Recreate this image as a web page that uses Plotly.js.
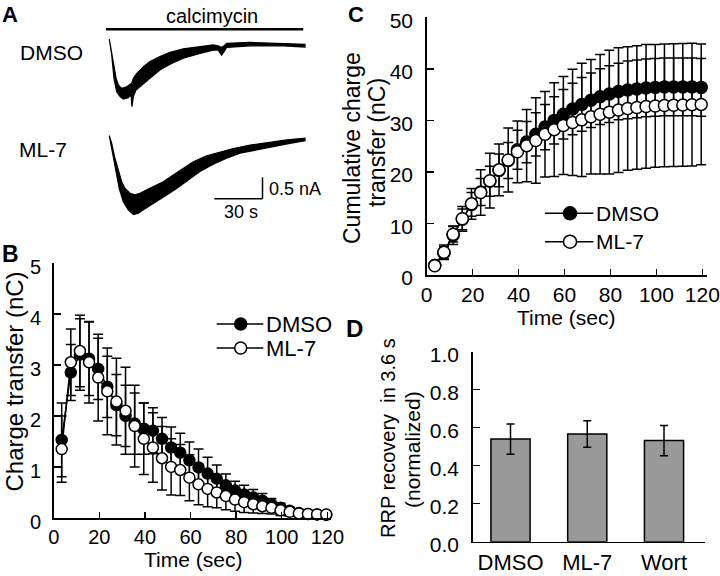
<!DOCTYPE html>
<html>
<head>
<meta charset="utf-8">
<script src="https://cdn.plot.ly/plotly-3.0.1.min.js"></script>
<style>html,body{margin:0;padding:0;background:#fff;}#chart{width:720px;height:576px;}</style>
</head>
<body>
<div id="chart"></div>
<script>
// ---------- Panel A: current traces (envelope of noisy recording), time in s, current in nA ----------
var dmsoUpperT = [0, 1.06, 2.5, 4.2, 5.6, 7.7, 10.8, 13.9, 15.0, 17.0, 21.2, 25.3, 31.5, 37.8, 46.1, 56.4, 64.7, 67.8, 69.9, 71.4, 73.0, 87.6, 108.3, 121.8];
var dmsoUpperI = [0, -0.26, -0.61, -0.92, -1.08, -1.16, -1.12, -1.04, -0.92, -0.81, -0.65, -0.53, -0.41, -0.31, -0.23, -0.18, -0.14, -0.16, -0.20, -0.16, -0.10, -0.08, -0.10, -0.125];
var dmsoLowerT = [0, 1.5, 2.9, 4.6, 6.7, 8.7, 11.8, 13.5, 14.1, 15.0, 16.6, 20.1, 25.3, 31.5, 37.8, 46.1, 56.4, 64.7, 67.8, 69.9, 71.4, 73.0, 87.6, 108.3, 121.8];
var dmsoLowerI = [0, -0.38, -0.92, -1.24, -1.35, -1.41, -1.38, -1.31, -1.59, -1.35, -1.20, -1.08, -0.92, -0.73, -0.59, -0.45, -0.34, -0.26, -0.26, -0.38, -0.30, -0.20, -0.16, -0.16, -0.19];
var ml7UpperT = [0, 1.5, 3.5, 5.6, 7.7, 9.8, 12.9, 16.0, 19.1, 23.3, 27.4, 33.6, 39.8, 46.1, 52.3, 60.6, 68.9, 77.2, 87.6, 97.9, 110.4, 121.8];
var ml7UpperI = [0, -0.18, -0.53, -0.84, -1.08, -1.24, -1.35, -1.39, -1.35, -1.27, -1.20, -1.08, -0.92, -0.77, -0.61, -0.47, -0.38, -0.30, -0.22, -0.16, -0.10, -0.06];
var ml7LowerT = [0, 2.1, 4.2, 6.2, 8.7, 11.8, 15.0, 18.1, 21.2, 25.3, 30.5, 35.7, 41.9, 48.1, 56.4, 64.7, 73.0, 81.3, 91.7, 102.1, 112.4, 121.8];
var ml7LowerI = [0, -0.38, -0.84, -1.24, -1.55, -1.74, -1.85, -1.82, -1.74, -1.63, -1.51, -1.39, -1.24, -1.08, -0.84, -0.67, -0.53, -0.41, -0.34, -0.26, -0.18, -0.12];
var drugBarT = [-2.05, 120.7];      // calcimycin application (s)
var scaleTimeS = 30;                // scale bar, s
var scaleCurrentNA = 0.5;           // scale bar, nA

// ---------- Panels B and C: time points (s) ----------
var timeSec = [3.5, 7.5, 11.5, 15.5, 19.5, 23.5, 27.5, 31.5, 35.5, 39.5, 43.5, 47.5, 51.5, 55.5, 59.5, 63.5, 67.5, 71.5, 75.5, 79.5, 83.5, 87.5, 91.5, 95.5, 99.5, 103.5, 107.5, 111.5, 115.5, 119.5];

// Panel B: charge transfer (nC)
var chargeDMSO = [1.53, 2.85, 3.20, 3.12, 2.92, 2.57, 2.21, 2.00, 1.85, 1.75, 1.71, 1.55, 1.38, 1.28, 1.13, 0.99, 0.87, 0.77, 0.64, 0.54, 0.46, 0.40, 0.34, 0.27, 0.20, 0.14, 0.10, 0.08, 0.07, 0.06];
var chargeDMSOerr = [0.72, 0.55, 0.70, 0.72, 0.60, 0.60, 0.60, 0.60, 0.60, 0.50, 0.45, 0.42, 0.40, 0.38, 0.36, 0.36, 0.32, 0.27, 0.22, 0.18, 0.18, 0.16, 0.14, 0.11, 0.09, 0.07, 0.05, 0.04, 0.03, 0.03];
var chargeML7 = [1.35, 3.05, 3.27, 3.05, 2.75, 2.48, 2.28, 2.10, 1.80, 1.55, 1.38, 1.17, 1.00, 0.94, 0.79, 0.66, 0.57, 0.50, 0.43, 0.36, 0.31, 0.27, 0.23, 0.20, 0.15, 0.12, 0.09, 0.08, 0.07, 0.07];
var chargeML7err = [0.65, 0.65, 0.70, 0.80, 0.85, 0.85, 0.85, 0.85, 0.80, 0.70, 0.68, 0.62, 0.55, 0.50, 0.45, 0.40, 0.35, 0.30, 0.27, 0.23, 0.20, 0.17, 0.14, 0.12, 0.10, 0.08, 0.06, 0.05, 0.04, 0.03];

// Panel C: cumulative charge transfer (nC)
var cumDMSO = [1.9, 4.3, 7.7, 10.8, 13.7, 16.1, 18.2, 20.3, 22.2, 24.3, 25.8, 27.3, 28.7, 30.0, 31.2, 32.2, 33.1, 33.9, 34.6, 35.1, 35.6, 35.9, 36.1, 36.3, 36.4, 36.5, 36.5, 36.5, 36.5, 36.4];
var cumDMSOerr = [0.5, 1.2, 1.8, 2.0, 2.3, 2.6, 2.9, 3.2, 3.5, 3.8, 4.0, 4.2, 4.4, 4.6, 4.8, 5.0, 5.2, 5.3, 5.4, 5.5, 5.5, 5.6, 5.6, 5.6, 5.6, 5.6, 5.6, 5.6, 5.6, 5.6];
var cumML7 = [1.8, 4.4, 7.9, 10.9, 13.8, 16.0, 18.3, 20.4, 22.3, 23.9, 25.1, 26.1, 27.3, 28.2, 29.0, 29.6, 30.1, 30.7, 31.2, 31.6, 32.0, 32.3, 32.5, 32.7, 32.8, 32.9, 32.95, 33.0, 33.05, 33.1];
var cumML7err = [0.5, 1.4, 1.5, 2.4, 3.0, 4.4, 5.3, 5.0, 6.2, 6.0, 7.0, 8.3, 8.3, 9.1, 9.5, 10.3, 11.0, 11.1, 11.6, 12.0, 12.1, 12.0, 12.0, 12.0, 11.9, 11.9, 11.9, 11.9, 11.9, 11.7];

// Panel D: RRP recovery (normalized)
var groupsD = ['DMSO', 'ML-7', 'Wort'];
var recoveryD = [0.54, 0.567, 0.532];
var recoveryErrD = [0.08, 0.07, 0.08];

// ---------- helpers (pixel -> paper) ----------
function px(x) { return x / 720; }
function py(y) { return 1 - y / 576; }
var FONT = 'Liberation Sans, Arial, Helvetica, sans-serif';

function polygon(tu, iu, tl, il) {
  return { x: tu.concat(tl.slice().reverse()), y: iu.concat(il.slice().reverse()) };
}
var dmsoPoly = polygon(dmsoUpperT, dmsoUpperI, dmsoLowerT, dmsoLowerI);
var ml7Poly = polygon(ml7UpperT, ml7UpperI, ml7LowerT, ml7LowerI);

var traces = [
  // Panel A
  { x: dmsoPoly.x, y: dmsoPoly.y, xaxis: 'x4', yaxis: 'y4', mode: 'lines', fill: 'toself',
    fillcolor: '#000', line: { color: '#000', width: 1.2 }, hoverinfo: 'skip' },
  { x: ml7Poly.x, y: ml7Poly.y, xaxis: 'x4', yaxis: 'y5', mode: 'lines', fill: 'toself',
    fillcolor: '#000', line: { color: '#000', width: 1.2 }, hoverinfo: 'skip' },
  // Panel B
  { x: timeSec, y: chargeDMSO, xaxis: 'x', yaxis: 'y', mode: 'lines+markers', name: 'DMSO', cliponaxis: false,
    line: { color: '#000', width: 1.5 },
    marker: { symbol: 'circle', size: 11, color: '#000', line: { color: '#000', width: 1.5 } },
    error_y: { type: 'data', array: chargeDMSOerr, color: '#000', thickness: 1.5, width: 5 } },
  { x: timeSec, y: chargeML7, xaxis: 'x', yaxis: 'y', mode: 'lines+markers', name: 'ML-7', cliponaxis: false,
    line: { color: '#000', width: 1.5 },
    marker: { symbol: 'circle', size: 11, color: '#fff', line: { color: '#000', width: 1.5 } },
    error_y: { type: 'data', array: chargeML7err, color: '#000', thickness: 1.5, width: 5 } },
  // Panel C
  { x: timeSec, y: cumDMSO, xaxis: 'x2', yaxis: 'y2', mode: 'lines+markers', name: 'DMSO', cliponaxis: false,
    line: { color: '#000', width: 1.5 },
    marker: { symbol: 'circle', size: 12, color: '#000', line: { color: '#000', width: 1.5 } },
    error_y: { type: 'data', array: cumDMSOerr, color: '#000', thickness: 1.5, width: 5 } },
  { x: timeSec, y: cumML7, xaxis: 'x2', yaxis: 'y2', mode: 'lines+markers', name: 'ML-7', cliponaxis: false,
    line: { color: '#000', width: 1.5 },
    marker: { symbol: 'circle', size: 12, color: '#fff', line: { color: '#000', width: 1.5 } },
    error_y: { type: 'data', array: cumML7err, color: '#000', thickness: 1.5, width: 5 } },
  // Panel D
  { type: 'bar', x: groupsD, y: recoveryD, xaxis: 'x3', yaxis: 'y3', width: 0.51,
    marker: { color: '#999999', line: { color: '#000', width: 1.5 } },
    error_y: { type: 'data', array: recoveryErrD, color: '#000', thickness: 1.5, width: 4 } }
];

var axCommon = {
  showline: true, linecolor: '#000', linewidth: 1.5, showgrid: false, zeroline: false,
  ticks: 'inside', ticklen: 6, tickwidth: 1.5, tickcolor: '#000',
  tickfont: { family: FONT, size: 20, color: '#000' }, fixedrange: true
};
function ax(o) { return Object.assign({}, axCommon, o); }

// panel A pixel mapping
var aPxPerS = 1.607, aT0px = 109.3, aPxPerNA = 42.6;
var dmsoBase = 39, ml7Base = 135.7;

var layout = {
  width: 720, height: 576,
  margin: { l: 0, r: 0, t: 0, b: 0, pad: 0 },
  paper_bgcolor: '#fff', plot_bgcolor: 'rgba(0,0,0,0)',
  showlegend: false,
  font: { family: FONT, color: '#000' },
  // Panel B
  xaxis: ax({ domain: [px(53.7), px(331)], range: [0, 121.6], anchor: 'y', dtick: 20, tick0: 0,
              ticklabelstandoff: 0 }),
  yaxis: ax({ domain: [py(518), py(262.7)], range: [0, 5], anchor: 'x', dtick: 1, ticklen: 7,
              ticklabelstandoff: 7, ticklabelshift: 4 }),
  // Panel C
  xaxis2: ax({ domain: [px(426.7), px(706.7)], range: [0, 121.9], anchor: 'y2', dtick: 20, tick0: 0,
               tickfont: { family: FONT, size: 21, color: '#000' }, ticklabelstandoff: 0 }),
  yaxis2: ax({ domain: [py(275), py(17.3)], range: [0, 50], anchor: 'x2', dtick: 10, ticklen: 7,
               tickfont: { family: FONT, size: 21, color: '#000' }, ticklabelstandoff: 8, ticklabelshift: 3 }),
  // Panel D
  xaxis3: ax({ domain: [px(472.7), px(705)], range: [-0.4925, 2.534], anchor: 'y3', ticks: '',
               tickfont: { family: FONT, size: 22, color: '#000' }, ticklabelstandoff: 0 }),
  yaxis3: ax({ domain: [py(541.7), py(351.7)], range: [0, 1], anchor: 'x3', dtick: 0.2, tickformat: '.1f', ticklen: 7,
               tickfont: { family: FONT, size: 21, color: '#000' }, ticklabelstandoff: 8, ticklabelshift: 3 }),
  // Panel A (hidden axes)
  xaxis4: { domain: [px(100), px(320)], range: [(100 - aT0px) / aPxPerS, (320 - aT0px) / aPxPerS], anchor: 'y4', visible: false, fixedrange: true },
  yaxis4: { domain: [py(115), py(20)], range: [-(115 - dmsoBase) / aPxPerNA, -(20 - dmsoBase) / aPxPerNA], anchor: 'x4', visible: false, fixedrange: true },
  yaxis5: { domain: [py(225), py(125)], range: [-(225 - ml7Base) / aPxPerNA, -(125 - ml7Base) / aPxPerNA], anchor: 'x4', visible: false, fixedrange: true },
  shapes: [],
  annotations: []
};

// Panel A: calcimycin bar and scale bar
var drugBarI = -(29.3 - dmsoBase) / aPxPerNA;
layout.shapes.push({ type: 'line', xref: 'x4', yref: 'y4', x0: drugBarT[0], x1: drugBarT[1], y0: drugBarI, y1: drugBarI,
  line: { color: '#000', width: 2.5 } });
var sbEndT = (262.5 - aT0px) / aPxPerS, sbBottom = -(198.7 - ml7Base) / aPxPerNA;
layout.shapes.push({ type: 'line', xref: 'x4', yref: 'y5', x0: sbEndT - scaleTimeS, x1: sbEndT, y0: sbBottom, y1: sbBottom,
  line: { color: '#000', width: 1.5 } });
layout.shapes.push({ type: 'line', xref: 'x4', yref: 'y5', x0: sbEndT, x1: sbEndT, y0: sbBottom, y1: sbBottom + scaleCurrentNA,
  line: { color: '#000', width: 1.5 } });

// Manual legends (B and C)
function legendEntry(x0, x1, y, cx, d, filled, label, fs) {
  layout.shapes.push({ type: 'line', xref: 'paper', yref: 'paper', x0: px(x0), x1: px(x1), y0: py(y), y1: py(y),
    line: { color: '#000', width: 1.5 } });
  layout.shapes.push({ type: 'circle', xref: 'paper', yref: 'paper', xsizemode: 'pixel', ysizemode: 'pixel',
    xanchor: px(cx), yanchor: py(y), x0: -d / 2, x1: d / 2, y0: -d / 2, y1: d / 2,
    fillcolor: filled ? '#000' : '#fff', line: { color: '#000', width: 1.5 } });
  layout.annotations.push({ xref: 'paper', yref: 'paper', x: px(x1 + 1), y: py(y), xanchor: 'left', yanchor: 'middle',
    text: label, showarrow: false, font: { family: FONT, size: fs, color: '#000' } });
}
legendEntry(216.7, 263.3, 324, 240.7, 12, true, 'DMSO', 22);
legendEntry(216.7, 263.3, 348, 240.7, 12, false, 'ML-7', 22);
legendEntry(545, 593.3, 213.3, 570, 13, true, 'DMSO', 21);
legendEntry(545, 593.3, 241.7, 570, 13, false, 'ML-7', 21);

// Text annotations
function note(text, x, y, size, opts) {
  layout.annotations.push(Object.assign({ xref: 'paper', yref: 'paper', x: px(x), y: py(y), text: text, showarrow: false,
    xanchor: 'center', yanchor: 'middle', borderpad: 0, font: { family: FONT, size: size, color: '#000' } }, opts || {}));
}
// panel letters
note('<b>A</b>', 10, 14, 22);
note('<b>B</b>', 10, 254, 23);
note('<b>C</b>', 356, 14, 22);
note('<b>D</b>', 354, 328, 24);
// panel A labels
note('calcimycin', 212, 16, 20);
note('DMSO', 19, 52, 21, { xanchor: 'left' });
note('ML-7', 18, 149, 21, { xanchor: 'left' });
note('0.5 nA', 268, 189, 18, { xanchor: 'left' });
note('30 s', 241, 212, 18);
// axis titles
note('Time (sec)', 193, 559, 21);
note('Charge transfer (nC)', 13.5, 382, 24, { textangle: -90 });
note('Time (sec)', 566, 317, 21);
note('Cumulative charge', 352, 148, 23, { textangle: -90 });
note('transfer (nC)', 377, 143, 23, { textangle: -90 });
note('RRP recovery  in 3.6 s', 388, 438, 20, { textangle: -90 });
note('(normalized)', 412, 450, 21, { textangle: -90 });

Plotly.newPlot('chart', traces, layout, { staticPlot: true, displayModeBar: false });
</script>
</body>
</html>
